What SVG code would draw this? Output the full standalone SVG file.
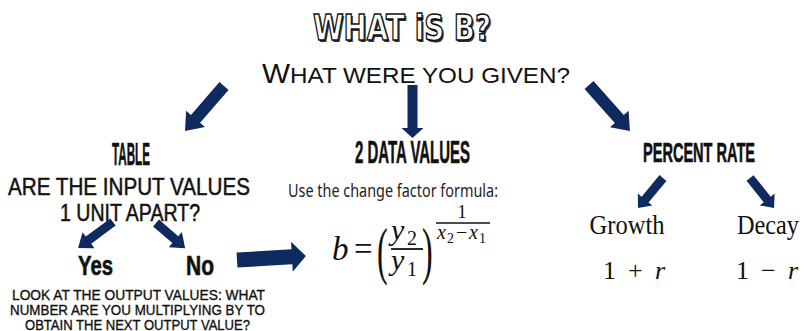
<svg xmlns="http://www.w3.org/2000/svg" width="804" height="331" viewBox="0 0 804 331">
<style>
.t{font-family:"Liberation Sans",Arial,sans-serif;fill:#111;stroke:#111;stroke-width:0.5}
.s{font-family:"Liberation Sans",Arial,sans-serif;fill:#111;stroke:#111;stroke-width:0.35}
.h{font-family:"Liberation Sans",Arial,sans-serif;font-weight:bold;fill:#111;stroke:#111;stroke-width:0.6}
.q{font-family:"Liberation Sans",Arial,sans-serif;fill:#111}
.hw{font-family:"Noto Sans","Liberation Sans",sans-serif;fill:#222}
.m{font-family:"Liberation Serif","Times New Roman",serif;fill:#111}
.mi{font-family:"Liberation Serif","Times New Roman",serif;font-style:italic;fill:#111}
.ar{fill:#0f2a5e}
</style>
<rect width="804" height="331" fill="#fff"/>
<g id="title">
<text x="403.5" y="41.5" font-family="'DejaVu Sans','Liberation Sans',sans-serif" font-weight="bold" font-size="36" text-anchor="middle" textLength="178" lengthAdjust="spacingAndGlyphs" fill="#333">WHAT iS B?</text>
<text x="402" y="40" font-family="'DejaVu Sans','Liberation Sans',sans-serif" font-weight="bold" font-size="36" text-anchor="middle" textLength="178" lengthAdjust="spacingAndGlyphs" fill="#fff" stroke="#111" stroke-width="1.6">WHAT iS B?</text>
</g>
<g id="question">
<text class="q" x="262" y="83" font-size="22" textLength="308" lengthAdjust="spacingAndGlyphs"><tspan font-size="27">W</tspan>HAT WERE YOU GIVEN?</text>
</g>
<g id="table">
<text class="h" x="131" y="165" font-size="31" text-anchor="middle" textLength="38" lengthAdjust="spacingAndGlyphs">TABLE</text>
<text class="t" x="129" y="195" font-size="24" text-anchor="middle" textLength="242" lengthAdjust="spacingAndGlyphs">ARE THE INPUT VALUES</text>
<text class="t" x="130" y="221" font-size="24" text-anchor="middle" textLength="140" lengthAdjust="spacingAndGlyphs">1 UNIT APART?</text>
</g>
<g id="yes">
<text class="h" x="95.5" y="275" font-size="27" text-anchor="middle" textLength="35" lengthAdjust="spacingAndGlyphs">Yes</text>
</g>
<g id="no">
<text class="h" x="200" y="275" font-size="27" text-anchor="middle" textLength="28" lengthAdjust="spacingAndGlyphs">No</text>
</g>
<g id="yes-note">
<text class="s" x="138.5" y="300" font-size="14" text-anchor="middle" textLength="253" lengthAdjust="spacingAndGlyphs">LOOK AT THE OUTPUT VALUES: WHAT</text>
<text class="s" x="137.5" y="315" font-size="14" text-anchor="middle" textLength="255" lengthAdjust="spacingAndGlyphs">NUMBER ARE YOU MULTIPLYING BY TO</text>
<text class="s" x="137.5" y="329.5" font-size="14" text-anchor="middle" textLength="225" lengthAdjust="spacingAndGlyphs">OBTAIN THE NEXT OUTPUT VALUE?</text>
</g>
<g id="data-values">
<text class="h" x="412.5" y="163" font-size="32" text-anchor="middle" textLength="115" lengthAdjust="spacingAndGlyphs">2 DATA VALUES</text>
<text class="hw" x="288" y="197" font-size="18" textLength="210" lengthAdjust="spacingAndGlyphs">Use the change factor formula:</text>
</g>
<g id="formula">
<text class="mi" x="332" y="260" font-size="33">b</text>
<text class="m" x="354" y="260" font-size="33">=</text>
<text class="m" x="377" y="272" font-size="64" transform="translate(377 0) scale(0.5 1) translate(-377 0)">(</text>
<text class="m" x="422" y="272" font-size="64" transform="translate(422 0) scale(0.5 1) translate(-422 0)">)</text>
<text class="mi" x="391" y="240" font-size="30">y</text>
<text class="m" x="407" y="245" font-size="20">2</text>
<line x1="391" y1="249" x2="423" y2="249" stroke="#111" stroke-width="1.8"/>
<text class="mi" x="391" y="270" font-size="30">y</text>
<text class="m" x="407" y="276" font-size="20">1</text>
<text class="m" x="462" y="218" font-size="18" text-anchor="middle">1</text>
<line x1="436" y1="223" x2="490" y2="223" stroke="#111" stroke-width="1.5"/>
<text class="mi" x="437" y="239" font-size="20">x</text>
<text class="m" x="447" y="243" font-size="14">2</text>
<text class="m" x="456" y="239" font-size="20">−</text>
<text class="mi" x="469" y="239" font-size="20">x</text>
<text class="m" x="479" y="243" font-size="14">1</text>
</g>
<g id="percent-rate">
<text class="h" x="699" y="162" font-size="28" text-anchor="middle" textLength="112" lengthAdjust="spacingAndGlyphs">PERCENT RATE</text>
</g>
<g id="growth">
<text class="m" x="627" y="234" font-size="27" text-anchor="middle" textLength="75" lengthAdjust="spacingAndGlyphs">Growth</text>
<text class="m" x="603" y="279" font-size="26" textLength="62">1 + <tspan class="mi">r</tspan></text>
</g>
<g id="decay">
<text class="m" x="768" y="234" font-size="27" text-anchor="middle" textLength="62" lengthAdjust="spacingAndGlyphs">Decay</text>
<text class="m" x="736" y="279" font-size="26" textLength="62">1 − <tspan class="mi">r</tspan></text>
</g>
<g id="connectors">
<polygon class="ar" transform="translate(224 86) rotate(130.9)" points="0,-6 43.5,-6 43.5,-12.5 59.5,0 43.5,12.5 43.5,6 0,6"/>
<polygon class="ar" transform="translate(412.5 85) rotate(90)" points="0,-5 43,-5 43,-11 53,0 43,11 43,5 0,5"/>
<polygon class="ar" transform="translate(589 85) rotate(48.3)" points="0,-6 45.5,-6 45.5,-12.5 61.5,0 45.5,12.5 45.5,6 0,6"/>
<polygon class="ar" transform="translate(113 222) rotate(143.4)" points="0,-4.5 30.5,-4.5 30.5,-10 43.5,0 30.5,10 30.5,4.5 0,4.5"/>
<polygon class="ar" transform="translate(156 223) rotate(40.8)" points="0,-4.5 25.5,-4.5 25.5,-10 38.5,0 25.5,10 25.5,4.5 0,4.5"/>
<polygon class="ar" transform="translate(237 260) rotate(-3.3)" points="0,-7.5 55,-7.5 55,-15 69,0 55,15 55,7.5 0,7.5"/>
<polygon class="ar" transform="translate(663 178) rotate(129.8)" points="0,-4.5 28,-4.5 28,-9.5 39,0 28,9.5 28,4.5 0,4.5"/>
<polygon class="ar" transform="translate(750 178) rotate(51.3)" points="0,-4.5 27.5,-4.5 27.5,-9.5 38.5,0 27.5,9.5 27.5,4.5 0,4.5"/>
</g>
</svg>
